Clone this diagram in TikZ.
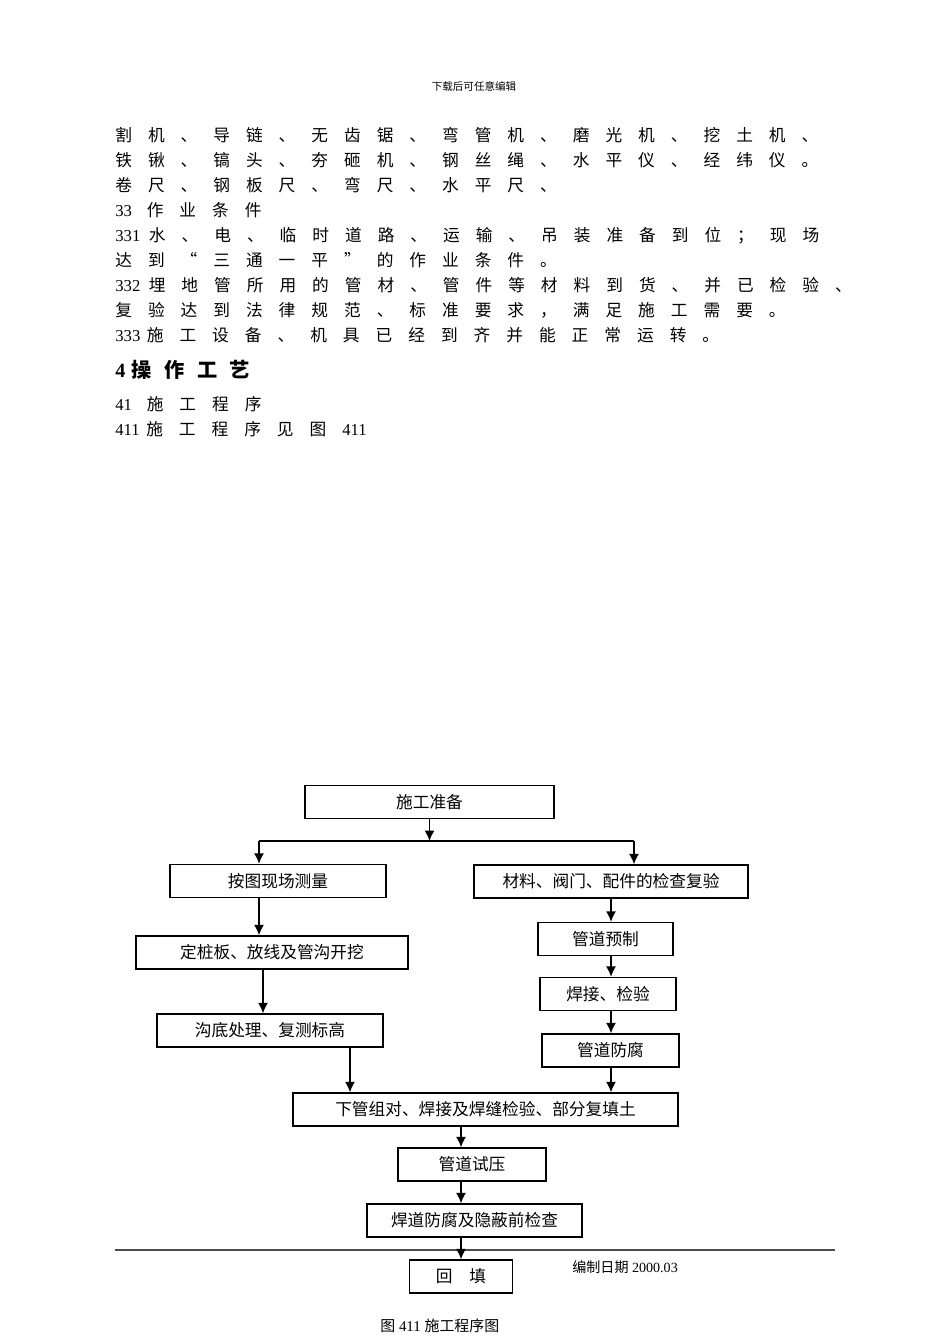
\documentclass[tikz,border=0pt]{standalone}
\usepackage{fontspec}
\setmainfont{Liberation Serif}
\newfontfamily\cjk{Noto Sans CJK SC}
\usetikzlibrary{arrows.meta}
\tikzstyle{line} = [anchor=base west, inner sep=0pt, font={\fontsize{9.5}{11}\cjk\spaceskip 9.1pt\relax}]
\tikzstyle{head} = [anchor=base west, inner sep=0pt, font={\fontsize{11.5}{13}\cjk\bfseries\spaceskip 7.2pt\relax}]
\tikzstyle{process} = [rectangle, minimum height=0.66cm, inner sep=0pt, text centered, draw=black, thick, font=\fontsize{9.5}{11}\cjk]
\tikzstyle{arrow} = [thick,->,>={Latex[length=2.1mm,width=2mm]}]

\begin{document}
\begin{tikzpicture}[x=0.02cm, y=-0.02cm]
  \useasboundingbox (0,0) rectangle (950,1344);

  % page text
  \node (top) [inner sep=0pt, font=\fontsize{6}{7}\cjk] at (474,86) {下载后可任意编辑};
  \node (ln1) [line] at (115,142) {割 机 、 导 链 、 无 齿 锯 、 弯 管 机 、 磨 光 机 、 挖 土 机 、};
  \node (ln2) [line] at (115,167) {铁 锹 、 镐 头 、 夯 砸 机 、 钢 丝 绳 、 水 平 仪 、 经 纬 仪 。};
  \node (ln3) [line] at (115,192) {卷 尺 、 钢 板 尺 、 弯 尺 、 水 平 尺 、};
  \node (ln4) [line] at (115,217) {{\rmfamily 33}\hspace{8.4pt}作 业 条 件};
  \node (ln5) [line] at (115,242) {{\rmfamily 331}\hspace{4.9pt}水 、 电 、 临 时 道 路 、 运 输 、 吊 装 准 备 到 位 ； 现 场};
  \node (ln6) [line] at (115,267) {达 到 “ 三 通 一 平 ” 的 作 业 条 件 。};
  \node (ln7) [line] at (115,292) {{\rmfamily 332}\hspace{4.8pt}埋 地 管 所 用 的 管 材 、 管 件 等 材 料 到 货 、 并 已 检 验 、};
  \node (ln8) [line] at (115,317) {复 验 达 到 法 律 规 范 、 标 准 要 求 ， 满 足 施 工 需 要 。};
  \node (ln9) [line] at (115,342) {{\rmfamily 333}\hspace{3.7pt}施 工 设 备 、 机 具 已 经 到 齐 并 能 正 常 运 转 。};
  \node (hd) [head] at (115,377.5) {{\rmfamily 4}\hspace{3.4pt}操 作 工 艺};
  \node (ln10) [line] at (115,410) {{\rmfamily 41}\hspace{8.4pt}施 工 程 序};
  \node (ln11) [line] at (115,435) {{\rmfamily 411}\hspace{3.7pt}施 工 程 序 见 图 {\rmfamily 411}};

  % flow chart
  \node (prep) [process, minimum width=4.98cm] at (429.5,802) {施工准备};
  \node (survey) [process, minimum width=4.32cm] at (278,881) {按图现场测量};
  \node (check) [process, minimum width=5.48cm] at (611,881.5) {材料、阀门、配件的检查复验};
  \node (stake) [process, minimum width=5.44cm] at (272,952.5) {定桩板、放线及管沟开挖};
  \node (trench) [process, minimum width=4.52cm] at (270,1030.5) {沟底处理、复测标高};
  \node (prefab) [process, minimum width=2.7cm] at (605.5,939) {管道预制};
  \node (weld) [process, minimum width=2.72cm] at (608,994) {焊接、检验};
  \node (coat) [process, minimum width=2.74cm] at (610.5,1050.5) {管道防腐};
  \node (lay) [process, minimum width=7.7cm] at (485.5,1109.5) {下管组对、焊接及焊缝检验、部分复填土};
  \node (test) [process, minimum width=2.96cm] at (472,1164.5) {管道试压};
  \node (hide) [process, minimum width=4.3cm] at (474.5,1220.5) {焊道防腐及隐蔽前检查};
  \node (fill) [process, minimum width=2.06cm] at (461,1276.5) {回\quad 填};

  \coordinate (forkM) at (429.5,841);
  \coordinate (forkL) at (259,841);
  \coordinate (forkR) at (634,841);
  \coordinate (drop) at ([xshift=-0.18cm]stake.south);
  \coordinate (join) at ([xshift=1.6cm]trench.south);
  \coordinate (ruleL) at (115,1250);
  \coordinate (ruleR) at (835,1250);

  \draw [arrow] (prep.south) -- (forkM);
  \draw [thick] (forkL) -- (forkR);
  \draw [arrow] (forkL) -- (forkL |- survey.north);
  \draw [arrow] (forkR) -- (forkR |- check.north);
  \draw [arrow] (survey.south -| forkL) -- (stake.north -| forkL);
  \draw [arrow] (drop) -- (drop |- trench.north);
  \draw [arrow] (join) -- (join |- lay.north);
  \draw [arrow] (check.south) -- (prefab.north -| check);
  \draw [arrow] (prefab.south -| check) -- (weld.north -| check);
  \draw [arrow] (weld.south -| check) -- (coat.north -| check);
  \draw [arrow] (coat.south -| check) -- (lay.north -| check);
  \draw [arrow] (lay.south -| fill) -- (test.north -| fill);
  \draw [arrow] (test.south -| fill) -- (hide.north -| fill);
  \draw [black!70, line width=1pt] (ruleL) -- (ruleR);
  \draw [arrow] (hide.south -| fill) -- (fill.north);

  \node (date) [anchor=west, inner sep=0pt, font=\fontsize{8}{9.6}\selectfont] at (572,1267) {{\cjk 编制日期} 2000.03};
  \node (cap) [anchor=west, inner sep=0pt, font=\fontsize{8.5}{10}\selectfont] at (380,1326) {{\cjk 图} 411 {\cjk 施工程序图}};

\end{tikzpicture}
\end{document}
